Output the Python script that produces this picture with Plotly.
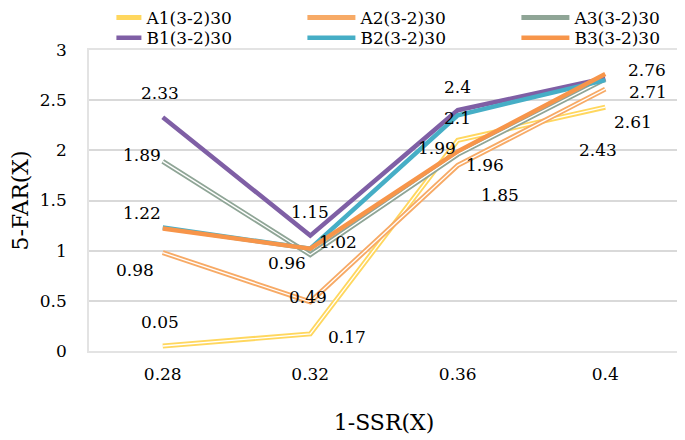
import plotly.graph_objects as go

categories = ["0.28", "0.32", "0.36", "0.4"]
A1 = [0.05, 0.17, 2.10, 2.43]
A2 = [0.98, 0.49, 1.85, 2.61]
A3 = [1.89, 0.96, 1.96, 2.71]
B1 = [2.33, 1.15, 2.40, 2.72]
B2 = [1.23, 1.02, 2.35, 2.70]
B3 = [1.22, 1.02, 1.99, 2.76]

names = ["A1(3-2)30", "A2(3-2)30", "A3(3-2)30", "B1(3-2)30", "B2(3-2)30", "B3(3-2)30"]
series = [A1, A2, A3, B1, B2, B3]
colors = ["#FFD75E", "#F7AA66", "#8FA596", "#7F5FA5", "#46AEC6", "#F7954A"]
double = [True, True, True, False, False, False]
legend_of = ["legend", "legend", "legend", "legend2", "legend2", "legend2"]

# label offsets (px): (series index, category index, xshift, yshift)
labels = [
    (3, 0, -3, 24), (2, 0, -21, 6), (5, 0, -21, 16), (1, 0, -28, -17), (0, 0, -3, 24),
    (3, 1, 0, 24), (5, 1, 28, 7), (2, 1, -23, -8), (1, 1, -2, 5), (0, 1, 37, -3),
    (3, 2, 0, 23), (0, 2, 0, 22), (5, 2, -21, 3), (2, 2, 27, -11), (1, 2, 42, -30),
    (5, 3, 42, 4), (2, 3, 43, -13), (1, 3, 28, -33), (0, 3, -7, -43),
]

font = "DejaVu Serif"
fig = go.Figure()
for i in range(6):
    fig.add_trace(go.Scatter(
        x=categories, y=series[i], mode="lines", name=names[i],
        line=dict(color=colors[i], width=5 if double[i] else 4.5),
        legendgroup=names[i], legend=legend_of[i],
    ))
    if double[i]:
        fig.add_trace(go.Scatter(
            x=categories, y=series[i], mode="lines", showlegend=False,
            line=dict(color="white", width=1.3), legendgroup=names[i],
            legend=legend_of[i], hoverinfo="skip",
        ))

for si, ci, xs, ys in labels:
    fig.add_annotation(x=ci, y=series[si][ci], text=f"{series[si][ci]:g}",
                       showarrow=False, xshift=xs, yshift=ys,
                       font=dict(family=font, size=17, color="black"))

leg_common = dict(orientation="h", x=-0.001, xanchor="left", yanchor="middle",
                  entrywidth=151, entrywidthmode="pixels", itemwidth=48,
                  font=dict(family=font, size=17, color="black"), tracegroupgap=0,
                  borderwidth=28, bordercolor="rgba(0,0,0,0)", bgcolor="rgba(0,0,0,0)")

fig.update_layout(
    width=677, height=432,
    margin=dict(l=81, r=6, t=42, b=89, autoexpand=False),
    paper_bgcolor="white", plot_bgcolor="white",
    font=dict(family=font, size=17, color="black"),
    showlegend=True,
    legend=dict(y=1.1066, **leg_common),
    legend2=dict(y=1.0396, **leg_common),
    xaxis=dict(type="category", range=[-0.5, 3.5], showgrid=False, showline=True,
               linecolor="#E3E3E3", mirror=True, linewidth=1.5, ticks="",
               tickfont=dict(family=font, size=17), ticklabelstandoff=7,
               title=dict(text="1-SSR(X)", font=dict(family=font, size=22), standoff=31)),
    yaxis=dict(range=[0, 3], dtick=0.5, showgrid=True, gridcolor="#D9D9D9", gridwidth=1.5,
               showline=True, linecolor="#E3E3E3", mirror=True, linewidth=1.5,
               zeroline=False, ticks="", tickfont=dict(family=font, size=17),
               ticklabelstandoff=17,
               title=dict(text="5-FAR(X)", font=dict(family=font, size=22), standoff=5)),
)
fig.write_html("out.html")
